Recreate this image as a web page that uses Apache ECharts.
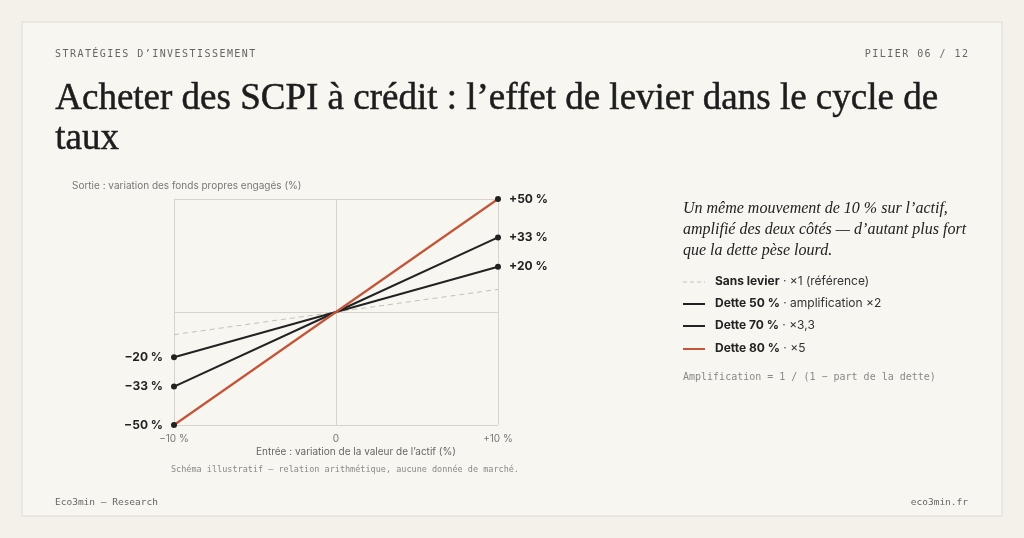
<!DOCTYPE html><html><head><meta charset="utf-8">
<script src="https://cdn.jsdelivr.net/npm/echarts@6/dist/echarts.min.js"></script>
<style>html,body{margin:0;background:#f4f1eb}#c{width:1024px;height:538px}</style></head><body><div id="c"></div>
<script>
const xValues=[-10,0,10];
const ref=[-10,0,10];
const d50=[-20,0,20];
const d70=[-33,0,33];
const d80=[-50,0,50];
const xTicks={'-10':'\u221210 %','0':'0','10':'+10 %'};
const ch=echarts.init(document.getElementById('c'));
const lab=v=>(v>0?'+':'\u2212')+Math.abs(v)+' %';
const mono='"DejaVu Sans Mono", monospace';
const spaced=s=>s.split('').map(c=>'{c|'+c+'}').join('{h|\u2009}');
const spRich={c:{font:'10px '+mono,fill:'#666'},h:{font:'8px Inter',fill:'#666'}};
function pts(a,mark){
 return xValues.map((x,i)=>({value:[x,a[i]],symbol:(mark&&x!==0)?'circle':'none',
  label:{show:mark&&x!==0,position:x<0?'left':'right',distance:8,fontFamily:'Inter',fontWeight:'bold',fontSize:12,color:'#222',formatter:lab(a[i])}}));
}
function ser(data,color,w,dashed,mark){
 return {type:'line',data:pts(data,mark),symbolSize:6,showSymbol:true,
  lineStyle:{color:color,width:w,type:dashed?[5,4]:'solid'},itemStyle:{color:'#222'},silent:true};
}
const rich={b:{font:'bold 12px Inter',fill:'#222'},n:{font:'12px Inter',fill:'#333'}};
ch.setOption({
 backgroundColor:'#f4f1eb',animation:false,
 grid:{left:174,right:526,top:199,bottom:113},
 xAxis:{type:'value',min:-10,max:10,interval:10,axisLine:{show:false},axisTick:{show:false},
  splitLine:{lineStyle:{color:'#d8d4cc'}},axisLabel:{color:'#777',fontFamily:'Inter',fontSize:10,margin:9,formatter:v=>xTicks[v]}},
 yAxis:{type:'value',min:-50,max:50,interval:50,axisLine:{show:false},axisTick:{show:false},
  splitLine:{lineStyle:{color:'#d8d4cc'}},axisLabel:{show:false}},
 series:[ser(ref,'#c4c0b8',1,true,false),ser(d50,'#222',2,false,true),ser(d70,'#222',2,false,true),ser(d80,'#c2553a',2.2,false,true)],
 graphic:[
  {type:'rect',z:-1,shape:{x:22,y:22,width:980,height:494},style:{fill:'#f8f6f1',stroke:'#dedad2',lineWidth:1}},
  {type:'text',left:55,top:49,style:{rich:spRich,text:spaced('STRATÉGIES D\u2019INVESTISSEMENT')}},
  {type:'text',right:56,top:49,style:{rich:spRich,text:spaced('PILIER 06 / 12')}},
  {type:'text',left:55,top:79,style:{text:'Acheter des SCPI à crédit : l\u2019effet de levier dans le cycle de\ntaux',font:'37px "Liberation Serif", serif',fill:'#1d1d1d',lineHeight:40,stroke:'#1d1d1d',lineWidth:0.5}},
  {type:'text',left:72,top:181,style:{text:'Sortie : variation des fonds propres engagés (%)',font:'10px Inter',fill:'#777'}},
  {type:'text',left:256,top:447,style:{text:'Entrée : variation de la valeur de l\u2019actif (%)',font:'10px Inter',fill:'#666'}},
  {type:'text',left:171,top:465,style:{text:'Schéma illustratif \u2014 relation arithmétique, aucune donnée de marché.',font:'8.5px '+mono,fill:'#888'}},
  {type:'text',left:683,top:198,style:{text:'Un même mouvement de 10 % sur l\u2019actif,\namplifié des deux côtés \u2014 d\u2019autant plus fort\nque la dette pèse lourd.',font:'italic 16px "Liberation Serif", serif',fill:'#222',lineHeight:21}},
  {type:'line',shape:{x1:683,y1:282,x2:705,y2:282},style:{stroke:'#c4c0b8',lineWidth:1,lineDash:[4,3]}},
  {type:'text',left:715,top:275,style:{rich,text:'{b|Sans levier}{n| · ×1 (référence)}'}},
  {type:'line',shape:{x1:683,y1:304,x2:705,y2:304},style:{stroke:'#222',lineWidth:2}},
  {type:'text',left:715,top:297,style:{rich,text:'{b|Dette 50 %}{n| · amplification ×2}'}},
  {type:'line',shape:{x1:683,y1:326,x2:705,y2:326},style:{stroke:'#222',lineWidth:2}},
  {type:'text',left:715,top:319,style:{rich,text:'{b|Dette 70 %}{n| · ×3,3}'}},
  {type:'line',shape:{x1:683,y1:349,x2:705,y2:349},style:{stroke:'#c2553a',lineWidth:2}},
  {type:'text',left:715,top:342,style:{rich,text:'{b|Dette 80 %}{n| · ×5}'}},
  {type:'text',left:683,top:372,style:{text:'Amplification = 1 / (1 \u2212 part de la dette)',font:'10px '+mono,fill:'#888'}},
  {type:'text',left:55,top:498,style:{text:'Eco3min \u2014 Research',font:'9.5px '+mono,fill:'#666'}},
  {type:'text',right:56,top:498,style:{text:'eco3min.fr',font:'9.5px '+mono,fill:'#666'}}
 ]
});
</script></body></html>
